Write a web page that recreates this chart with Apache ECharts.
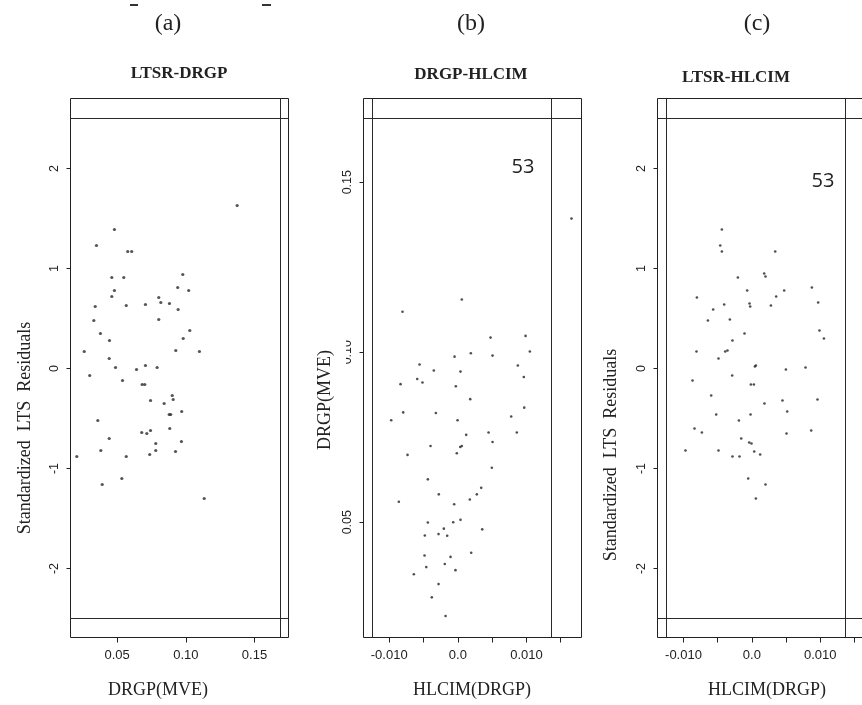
<!DOCTYPE html>
<html>
<head>
<meta charset="utf-8">
<title>LTS regression diagnostics</title>
<script src="https://cdn.jsdelivr.net/npm/echarts@6/dist/echarts.min.js"></script>
<style>
  html, body { margin: 0; padding: 0; background: #ffffff; }
  #chart { width: 862px; height: 705px; }
</style>
</head>
<body>
<div id="chart"></div>
<script>
// ---- observations: [x, y] per panel ----
// (a) DRGP(MVE) vs standardized LTS residuals
const ltsrDrgp = [
  [0.1374, 1.63], [0.0480, 1.39], [0.0349, 1.23], [0.0577, 1.17], [0.0606, 1.17],
  [0.0978, 0.94], [0.0461, 0.91], [0.0548, 0.91], [0.0941, 0.81], [0.1021, 0.78],
  [0.0480, 0.78], [0.0461, 0.72], [0.0803, 0.71], [0.0818, 0.66], [0.0881, 0.65],
  [0.0706, 0.64], [0.0566, 0.63], [0.0340, 0.62], [0.0944, 0.59], [0.0803, 0.49],
  [0.0330, 0.48], [0.1029, 0.38], [0.0378, 0.35], [0.0981, 0.30], [0.0444, 0.28],
  [0.0927, 0.18], [0.1099, 0.17], [0.0260, 0.17], [0.0442, 0.10], [0.0488, 0.01],
  [0.0706, 0.03], [0.0791, 0.01], [0.0641, -0.01], [0.0300, -0.07], [0.0539, -0.12],
  [0.0682, -0.16], [0.0701, -0.16], [0.0901, -0.27], [0.0908, -0.31], [0.0743, -0.32],
  [0.0842, -0.35], [0.0970, -0.43], [0.0879, -0.46], [0.0890, -0.46], [0.0359, -0.52],
  [0.0883, -0.60], [0.0743, -0.62], [0.0679, -0.64], [0.0716, -0.65], [0.0442, -0.70],
  [0.0781, -0.75], [0.0968, -0.73], [0.0381, -0.82], [0.0781, -0.82], [0.0925, -0.83],
  [0.0737, -0.86], [0.0206, -0.88], [0.0566, -0.88], [0.0534, -1.10], [0.0391, -1.16],
  [0.1134, -1.30]
];

// (b) HLCIM(DRGP) vs DRGP(MVE)
const drgpHlcim = [
  [0.01657, 0.1393], [0.00058, 0.1155], [-0.00806, 0.1119], [0.00477, 0.1043], [0.00987, 0.1048],
  [0.01050, 0.1002], [-0.00048, 0.0987], [0.00190, 0.0997], [0.00506, 0.0990], [-0.00558, 0.0964],
  [-0.00350, 0.0946], [0.00039, 0.0943], [0.00875, 0.0961], [0.00962, 0.0927], [-0.00835, 0.0906],
  [-0.00592, 0.0921], [-0.00515, 0.0911], [-0.00029, 0.0900], [0.00181, 0.0862], [0.00968, 0.0837],
  [-0.00796, 0.0823], [-0.00320, 0.0821], [0.00778, 0.0811], [-0.00971, 0.0800], [-0.00004, 0.0800],
  [0.00122, 0.0757], [0.00448, 0.0764], [0.00860, 0.0764], [0.00506, 0.0736], [-0.00398, 0.0724],
  [0.00035, 0.0721], [0.00058, 0.0724], [-0.00015, 0.0703], [-0.00733, 0.0698], [0.00496, 0.0660],
  [-0.00437, 0.0626], [0.00341, 0.0601], [-0.00277, 0.0582], [0.00277, 0.0582], [0.00175, 0.0567],
  [-0.00860, 0.0560], [-0.00053, 0.0553], [-0.00437, 0.0499], [-0.00067, 0.0500], [0.00039, 0.0507],
  [0.00356, 0.0479], [-0.00204, 0.0481], [-0.00481, 0.0461], [-0.00281, 0.0465], [-0.00155, 0.0460],
  [0.00195, 0.0410], [-0.00485, 0.0402], [-0.00106, 0.0398], [-0.00190, 0.0377], [-0.00460, 0.0368],
  [-0.00034, 0.0359], [-0.00641, 0.0347], [-0.00281, 0.0318], [-0.00379, 0.0279], [-0.00179, 0.0224]
];

// (c) HLCIM(DRGP) vs standardized LTS residuals
const ltsrHlcim = [
  [0.01660, 1.63], [-0.00439, 1.39], [-0.00463, 1.23], [-0.00439, 1.17], [0.00341, 1.17],
  [-0.00205, 0.91], [0.00180, 0.95], [0.00199, 0.92], [-0.00069, 0.78], [0.00472, 0.78],
  [0.00877, 0.81], [0.00355, 0.72], [-0.00804, 0.71], [-0.00405, 0.64], [-0.00035, 0.65],
  [-0.00025, 0.62], [0.00278, 0.63], [0.00969, 0.66], [-0.00566, 0.59], [-0.00643, 0.48],
  [-0.00322, 0.49], [-0.00108, 0.35], [0.00988, 0.38], [0.01053, 0.30], [-0.00284, 0.28],
  [-0.00810, 0.17], [-0.00390, 0.17], [-0.00357, 0.18], [-0.00488, 0.10], [0.00044, 0.02],
  [0.00058, 0.03], [0.00497, -0.01], [0.00784, 0.01], [-0.00288, -0.07], [-0.00868, -0.12],
  [-0.00015, -0.16], [0.00029, -0.16], [-0.00595, -0.27], [0.00447, -0.32], [0.00959, -0.31],
  [0.00184, -0.35], [0.00516, -0.43], [-0.00522, -0.46], [-0.00020, -0.46], [-0.00190, -0.52],
  [-0.00839, -0.60], [0.00867, -0.62], [-0.00731, -0.64], [0.00506, -0.65], [-0.00156, -0.70],
  [-0.00039, -0.74], [-0.00006, -0.75], [-0.00971, -0.82], [-0.00488, -0.82], [0.00034, -0.83],
  [0.00121, -0.86], [-0.00284, -0.88], [-0.00181, -0.88], [-0.00054, -1.10], [0.00199, -1.16],
  [0.00058, -1.30]
];

// ---- cut-off lines ----
const residCutoffs = [-2.5, 2.5];
const drgpCutoff = [0.1687];
const hlcimCutoffsB = [-0.01254, 0.01366];
const hlcimCutoffsC = [-0.01257, 0.01368];

// ---- axis ticks and labels ----
const residTicks = [-2, -1, 0, 1, 2];
const residTickLabels = ['-2', '-1', '0', '1', '2'];
const drgpTicks = [0.05, 0.10, 0.15];
const drgpTickLabels = ['0.05', '0.10', '0.15'];
const hlcimTicks = [-0.010, -0.005, 0, 0.005, 0.010, 0.015];
const hlcimLabelTicks = [-0.010, 0, 0.010];
const hlcimTickLabels = ['-0.010', '0.0', '0.010'];

// ---- text ----
const panelTags = ['(a)', '(b)', '(c)'];
const panelTitles = ['LTSR-DRGP', 'DRGP-HLCIM', 'LTSR-HLCIM'];
const xNames = ['DRGP(MVE)', 'HLCIM(DRGP)', 'HLCIM(DRGP)'];
const yNames = ['Standardized  LTS  Residuals', 'DRGP(MVE)', 'Standardized  LTS  Residuals'];
const outlierId = '53';

const SERIF = "'Liberation Serif', 'Times New Roman', Times, serif";
const SANS = "'Liberation Sans', Arial, Helvetica, sans-serif";
const INK = '#222222';

function labelFor(vals, texts) {
  return function (v) {
    for (let i = 0; i < vals.length; i++) {
      if (Math.abs(vals[i] - v) < 1e-9) return texts[i];
    }
    return '';
  };
}

function xAxisFor(idx, min, max, ticks, labelVals, labels) {
  return {
    gridIndex: idx, type: 'value', min: min, max: max,
    axisLine: { show: false, onZero: false },
    splitLine: { show: false },
    axisTick: { show: true, length: 5, customValues: ticks, lineStyle: { color: INK, width: 1 } },
    axisLabel: {
      show: true, customValues: labelVals, formatter: labelFor(labelVals, labels),
      color: INK, fontFamily: SANS, fontSize: 13, margin: 11
    }
  };
}

function yAxisFor(idx, min, max, ticks, labels) {
  return {
    gridIndex: idx, type: 'value', min: min, max: max,
    axisLine: { show: false, onZero: false },
    splitLine: { show: false },
    axisTick: { show: true, length: 4, customValues: ticks, lineStyle: { color: INK, width: 1 } },
    axisLabel: {
      show: true, customValues: ticks, formatter: labelFor(ticks, labels), rotate: 90,
      color: INK, fontFamily: SANS, fontSize: 12.5, margin: 9
    }
  };
}

function cutoffLines(xs, ys) {
  const data = [];
  xs.forEach(function (v) { data.push({ xAxis: v }); });
  ys.forEach(function (v) { data.push({ yAxis: v }); });
  return {
    silent: true, symbol: ['none', 'none'], animation: false, precision: 6,
    label: { show: false },
    lineStyle: { color: '#2a2a2a', width: 1, type: 'solid' },
    emphasis: { disabled: true },
    data: data
  };
}

function scatterFor(idx, data, size, color, lines) {
  return {
    type: 'scatter', xAxisIndex: idx, yAxisIndex: idx,
    data: data, symbolSize: size,
    itemStyle: { color: color },
    silent: true, animation: false,
    markLine: lines
  };
}

const boxStyle = { show: true, borderColor: INK, borderWidth: 1, backgroundColor: 'transparent', outerBoundsMode: 'none', containLabel: false };

const graphics = [
  // panel tags
  { type: 'text', x: 168, y: 24, style: { text: panelTags[0], font: '24px ' + SERIF, fill: INK, textAlign: 'center', textVerticalAlign: 'middle' } },
  { type: 'text', x: 471, y: 24, style: { text: panelTags[1], font: '24px ' + SERIF, fill: INK, textAlign: 'center', textVerticalAlign: 'middle' } },
  { type: 'text', x: 757, y: 24, style: { text: panelTags[2], font: '24px ' + SERIF, fill: INK, textAlign: 'center', textVerticalAlign: 'middle' } },
  // panel titles
  { type: 'text', x: 179, y: 74, style: { text: panelTitles[0], font: 'bold 17px ' + SERIF, fill: INK, textAlign: 'center', textVerticalAlign: 'middle' } },
  { type: 'text', x: 471, y: 75, style: { text: panelTitles[1], font: 'bold 17px ' + SERIF, fill: INK, textAlign: 'center', textVerticalAlign: 'middle' } },
  { type: 'text', x: 736, y: 78, style: { text: panelTitles[2], font: 'bold 17px ' + SERIF, fill: INK, textAlign: 'center', textVerticalAlign: 'middle' } },
  // x axis names
  { type: 'text', x: 158, y: 690, style: { text: xNames[0], font: '18px ' + SERIF, fill: INK, textAlign: 'center', textVerticalAlign: 'middle' } },
  { type: 'text', x: 472, y: 690, style: { text: xNames[1], font: '18px ' + SERIF, fill: INK, textAlign: 'center', textVerticalAlign: 'middle' } },
  { type: 'text', x: 767, y: 690, style: { text: xNames[2], font: '18px ' + SERIF, fill: INK, textAlign: 'center', textVerticalAlign: 'middle' } },
  // y axis names
  { type: 'text', x: 25, y: 428, rotation: Math.PI / 2, style: { text: yNames[0], font: '18px ' + SERIF, fill: INK, textAlign: 'center', textVerticalAlign: 'middle' } },
  { type: 'rect', z: 50, shape: { x: 312, y: 338, width: 34, height: 120 }, style: { fill: '#ffffff' } },
  { type: 'text', z: 60, x: 325, y: 400, rotation: Math.PI / 2, style: { text: yNames[1], font: '18px ' + SERIF, fill: INK, textAlign: 'center', textVerticalAlign: 'middle' } },
  { type: 'text', x: 611, y: 455, rotation: Math.PI / 2, style: { text: yNames[2], font: '18px ' + SERIF, fill: INK, textAlign: 'center', textVerticalAlign: 'middle' } },
  // observation id next to the outlier
  { type: 'text', x: 523, y: 167, style: { text: outlierId, font: '20px "Open Sans", "Noto Sans", sans-serif', fill: INK, textAlign: 'center', textVerticalAlign: 'middle' } },
  { type: 'text', x: 823, y: 181, style: { text: outlierId, font: '20px "Open Sans", "Noto Sans", sans-serif', fill: INK, textAlign: 'center', textVerticalAlign: 'middle' } },
  // clipped strokes at the very top edge
  { type: 'rect', shape: { x: 130, y: 4, width: 8, height: 2 }, style: { fill: '#333333' } },
  { type: 'rect', shape: { x: 262, y: 4, width: 9, height: 2 }, style: { fill: '#333333' } }
];

const option = {
  backgroundColor: '#ffffff',
  animation: false,
  grid: [
    Object.assign({ left: 70.5, top: 98.5, width: 218, height: 539 }, boxStyle),
    Object.assign({ left: 363.5, top: 98.5, width: 218, height: 539 }, boxStyle),
    Object.assign({ left: 657.5, top: 98.5, width: 218, height: 539 }, boxStyle)
  ],
  xAxis: [
    xAxisFor(0, 0.0160, 0.1748, drgpTicks, drgpTicks, drgpTickLabels),
    xAxisFor(1, -0.01375, 0.01803, hlcimTicks, hlcimLabelTicks, hlcimTickLabels),
    xAxisFor(2, -0.01380, 0.01807, hlcimTicks, hlcimLabelTicks, hlcimTickLabels)
  ],
  yAxis: [
    yAxisFor(0, -2.69, 2.70, residTicks, residTickLabels),
    yAxisFor(1, 0.01609, 0.17462, drgpTicks, drgpTickLabels),
    yAxisFor(2, -2.69, 2.70, residTicks, residTickLabels)
  ],
  series: [
    scatterFor(0, ltsrDrgp, 3.2, '#2b2b2b', cutoffLines(drgpCutoff, residCutoffs)),
    scatterFor(1, drgpHlcim, 2.6, '#222222', cutoffLines(hlcimCutoffsB, drgpCutoff)),
    scatterFor(2, ltsrHlcim, 2.6, '#222222', cutoffLines(hlcimCutoffsC, residCutoffs))
  ],
  graphic: graphics
};

const chart = echarts.init(document.getElementById('chart'), null, { renderer: 'canvas' });
chart.setOption(option);
</script>
</body>
</html>
